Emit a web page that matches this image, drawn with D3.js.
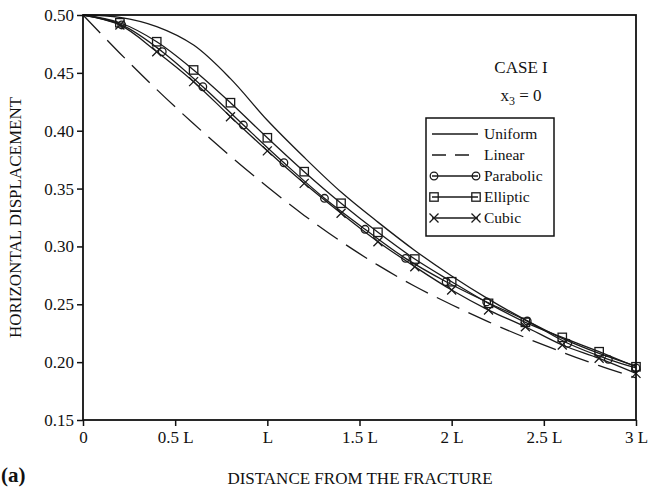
<!DOCTYPE html>
<meta charset="utf-8">
<style>
    body { margin: 0; background: #fff; }
    svg text { font-family: "Liberation Serif", "DejaVu Serif", serif; fill: #111; }
    .curve { fill: none; stroke: #1a1a1a; stroke-width: 1.3px; }
    .mark { fill: none; stroke: #1a1a1a; stroke-width: 1.3px; }
</style>
<svg width="651" height="490"></svg>
<script src="https://d3js.org/d3.v7.min.js"></script>
<script>

    // distances in units of L
    var xTicks = [0, 0.5, 1, 1.5, 2, 2.5, 3];
    var xTickLabels = ["0", "0.5 L", "L", "1.5 L", "2 L", "2.5 L", "3 L"];
    var yTicks = [0.15, 0.20, 0.25, 0.30, 0.35, 0.40, 0.45, 0.50];

    var uniformX = [0, 0.2, 0.4, 0.6, 0.8, 1.0, 1.2, 1.4, 1.6, 1.8, 2.0, 2.2, 2.4, 2.6, 2.8, 3.0];
    var uniformY = [0.500, 0.498, 0.490, 0.474, 0.445, 0.409, 0.377, 0.347, 0.321, 0.2965, 0.2745, 0.2545, 0.2365, 0.2205, 0.2075, 0.1965];

    var linearX = [0, 0.2, 0.4, 0.6, 0.8, 1.0, 1.2, 1.4, 1.6, 1.8, 2.0, 2.2, 2.4, 2.6, 2.8, 3.0];
    var linearY = [0.500, 0.467, 0.4356, 0.406, 0.378, 0.3516, 0.3268, 0.3042, 0.2838, 0.2656, 0.2496, 0.2348, 0.2212, 0.2086, 0.197, 0.1865];

    var parabolicX = [0, 0.21, 0.43, 0.65, 0.87, 1.09, 1.31, 1.53, 1.75, 1.97, 2.19, 2.41, 2.63, 2.85, 3.0];
    var parabolicY = [0.500, 0.4914, 0.4683, 0.438, 0.4049, 0.3723, 0.3416, 0.3148, 0.2897, 0.2695, 0.252, 0.2355, 0.2163, 0.2024, 0.195];

    var ellipticX = [0, 0.2, 0.4, 0.6, 0.8, 1.0, 1.2, 1.4, 1.6, 1.8, 2.0, 2.2, 2.4, 2.6, 2.8, 3.0];
    var ellipticY = [0.500, 0.4933, 0.4769, 0.4525, 0.4242, 0.3939, 0.3646, 0.3373, 0.3122, 0.2891, 0.2695, 0.2508, 0.2344, 0.2214, 0.209, 0.196];

    var cubicX = [0, 0.2, 0.4, 0.6, 0.8, 1.0, 1.2, 1.4, 1.6, 1.8, 2.0, 2.2, 2.4, 2.6, 2.8, 3.0];
    var cubicY = [0.500, 0.4914, 0.4683, 0.4424, 0.4121, 0.3826, 0.3545, 0.3286, 0.3041, 0.2825, 0.2623, 0.245, 0.2306, 0.2148, 0.2033, 0.1903];

    var legendNames = ["Uniform", "Linear", "Parabolic", "Elliptic", "Cubic"];

    var svg = d3.select("svg");

    var x = d3.scaleLinear().domain([0, 3]).range([83, 636]);
    var y = d3.scaleLinear().domain([0.15, 0.50]).range([420, 15]);

    function zip(xs, ys) {
        return xs.map(function(v, i) { return [v, ys[i]]; });
    }

    var series = [
        { name: "Uniform", data: zip(uniformX, uniformY), dash: null, marker: null },
        { name: "Linear", data: zip(linearX, linearY), dash: "25,10", marker: null },
        { name: "Parabolic", data: zip(parabolicX, parabolicY), dash: null, marker: "circle" },
        { name: "Elliptic", data: zip(ellipticX, ellipticY), dash: null, marker: "square" },
        { name: "Cubic", data: zip(cubicX, cubicY), dash: null, marker: "cross" }
    ];

    var line = d3.line()
        .x(function(d) { return x(d[0]); })
        .y(function(d) { return y(d[1]); })
        .curve(d3.curveCatmullRom.alpha(0.5));

    function drawMarker(g, type, cx, cy) {
        if (type == "circle") {
            g.append("circle").attr("class", "mark").attr("cx", cx).attr("cy", cy).attr("r", 3.8);
        } else if (type == "square") {
            g.append("rect").attr("class", "mark").attr("x", cx - 4.2).attr("y", cy - 4.2)
                .attr("width", 8.4).attr("height", 8.4);
        } else if (type == "cross") {
            g.append("path").attr("class", "mark")
                .attr("d", "M" + (cx - 4.5) + "," + (cy - 4.5) + "L" + (cx + 4.5) + "," + (cy + 4.5) +
                           "M" + (cx - 4.5) + "," + (cy + 4.5) + "L" + (cx + 4.5) + "," + (cy - 4.5));
        }
    }

    // curves
    var plot = svg.append("g");
    series.forEach(function(s) {
        plot.append("path")
            .attr("class", "curve")
            .attr("d", line(s.data))
            .attr("stroke-dasharray", s.dash);
        if (s.marker) {
            s.data.forEach(function(d) {
                if (d[0] > 0) drawMarker(plot, s.marker, x(d[0]), y(d[1]));
            });
        }
    });

    // frame
    svg.append("rect")
        .attr("x", x(0)).attr("y", y(0.5))
        .attr("width", x(3) - x(0)).attr("height", y(0.15) - y(0.5))
        .attr("fill", "none").attr("stroke", "#111").attr("stroke-width", 1.8);

    // axes
    var xAxis = svg.append("g")
        .attr("transform", "translate(0," + y(0.15) + ")")
        .call(d3.axisBottom(x).tickValues(xTicks)
            .tickFormat(function(d, i) { return xTickLabels[i]; })
            .tickSize(6).tickPadding(5));
    var yAxis = svg.append("g")
        .attr("transform", "translate(" + x(0) + ",0)")
        .call(d3.axisLeft(y).tickValues(yTicks)
            .tickFormat(d3.format(".2f"))
            .tickSize(6).tickPadding(3));

    [xAxis, yAxis].forEach(function(a) {
        a.select(".domain").remove();
        a.selectAll(".tick line").attr("stroke", "#111").attr("stroke-width", 1.5);
        a.selectAll("text").style("font-size", "17px")
            .style("font-family", "'Liberation Serif', serif").attr("fill", "#111");
    });

    // titles
    svg.append("text")
        .attr("x", 360).attr("y", 484)
        .attr("text-anchor", "middle")
        .style("font-size", "17px")
        .text("DISTANCE FROM THE FRACTURE");

    svg.append("text")
        .attr("transform", "translate(21," + ((y(0.5) + y(0.15)) / 2) + ") rotate(-90)")
        .attr("text-anchor", "middle")
        .style("font-size", "17px")
        .text("HORIZONTAL DISPLACEMENT");

    svg.append("text")
        .attr("x", 1).attr("y", 482)
        .style("font-size", "21px").style("font-weight", "bold")
        .text("(a)");

    // case label
    svg.append("text")
        .attr("x", 521).attr("y", 73)
        .attr("text-anchor", "middle")
        .style("font-size", "17px")
        .text("CASE I");

    var sub = svg.append("text")
        .attr("x", 521).attr("y", 101)
        .attr("text-anchor", "middle")
        .style("font-size", "17px");
    sub.append("tspan").text("x");
    sub.append("tspan").attr("dy", 4).style("font-size", "12px").text("3");
    sub.append("tspan").attr("dy", -4).text(" = 0");

    // legend
    var legend = svg.append("g").attr("transform", "translate(426,118)");
    legend.append("rect")
        .attr("width", 128).attr("height", 118)
        .attr("fill", "#fff").attr("stroke", "#111").attr("stroke-width", 1.5);

    legendNames.forEach(function(name, i) {
        var s = series[i];
        var ly = 16 + i * 21;
        legend.append("line")
            .attr("class", "curve")
            .attr("x1", 6).attr("x2", 52).attr("y1", ly).attr("y2", ly)
            .attr("stroke-dasharray", s.dash ? "14,9" : null);
        if (s.marker) {
            drawMarker(legend, s.marker, 8, ly);
            drawMarker(legend, s.marker, 50, ly);
        }
        legend.append("text")
            .attr("x", 58).attr("y", ly + 5)
            .style("font-size", "15.5px")
            .text(name);
    });

</script>
